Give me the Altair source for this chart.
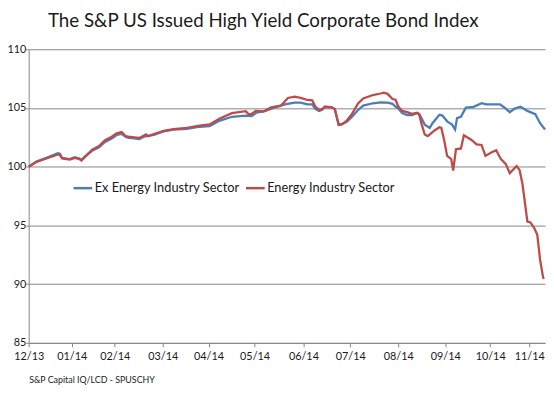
import altair as alt
import pandas as pd

# trading-day index (t) and index level values
ex_t = [0, 3.6, 8.2, 12.3, 13.6, 14.5, 15.5, 19.1, 21.4, 23.6, 24.5, 26.4, 29.5, 32.7, 35.5,
        38.6, 40.9, 43.2, 45, 46.4, 49.1, 51.4, 53.6, 58.2, 62.7, 67.3, 73.6, 79.5, 84.1, 88.6,
        94.5, 100.9, 103.6, 105.9, 110, 114.5, 119.1, 123.6, 126.4, 129.5, 131.8, 133.2, 135,
        136.4, 137.7, 140.9, 142.3, 144.1, 145.5, 147.7, 150, 153.2, 155.5, 160, 163.6, 166.8,
        169.1, 170.5, 171.8, 173.6, 175.9, 178.2, 180.5, 181.8, 184.1, 186.4, 187.7, 190.9,
        192.3, 194.5, 196.8, 198.2, 199.1, 200.9, 203.2, 206.8, 210.5, 212.7, 219.1, 221.4,
        223.6, 225.9, 228.6, 231.8, 235.5, 237.7, 240]
ex_v = [100.0, 100.45, 100.75, 101.05, 101.15, 101.1, 100.75, 100.65, 100.8, 100.7, 100.58,
        100.9, 101.35, 101.65, 102.1, 102.4, 102.7, 102.8, 102.55, 102.45, 102.4, 102.35,
        102.55, 102.7, 103.0, 103.15, 103.22, 103.4, 103.45, 103.9, 104.25, 104.35, 104.3,
        104.6, 104.75, 105.05, 105.3, 105.45, 105.45, 105.3, 105.3, 104.92, 104.75, 104.85,
        105.1, 105.05, 104.9, 103.58, 103.62, 103.8, 104.2, 104.84, 105.2, 105.4, 105.48,
        105.45, 105.35, 105.12, 104.95, 104.56, 104.4, 104.4, 104.55, 104.42, 103.58, 103.3,
        103.7, 104.42, 104.35, 103.86, 103.58, 103.16, 104.14, 104.25, 105.03, 105.1, 105.4,
        105.3, 105.3, 105.0, 104.64, 104.95, 105.1, 104.75, 104.47, 103.7, 103.16]

en_t = [0, 3.6, 8.2, 12.3, 13.6, 14.5, 15.5, 19.1, 21.4, 23.6, 24.5, 26.4, 29.5, 32.7, 35.5,
        38.6, 40.9, 43.2, 45, 46.4, 49.1, 51.4, 53.6, 54.5, 55.5, 58.2, 62.7, 67.3, 73.6, 79.5,
        84.1, 88.6, 94.5, 100.9, 102.3, 103.6, 105.5, 109.1, 112.7, 117.3, 120.5, 123.6, 126.4,
        129.5, 131.8, 133.2, 135, 136.4, 137.7, 140.9, 142.3, 144.1, 145.5, 147.7, 150, 153.2,
        155.5, 160, 163.6, 165, 166.8, 169.1, 170.5, 171.8, 173.6, 175.9, 178.2, 180.5, 181.4,
        182.7, 184.1, 185.5, 187.3, 188.6, 190.9, 191.8, 193.2, 194.5, 196.4, 197.3, 198.6,
        200.9, 202.3, 205.5, 208.2, 210.5, 212.3, 215, 217.3, 219.5, 221.8, 223.6, 225.9,
        226.8, 228.2, 229.5, 230.9, 231.8, 233.2, 235, 236.4, 237.7, 239.1, 239.5]
en_v = [100.0, 100.4, 100.7, 100.95, 101.05, 101.0, 100.7, 100.6, 100.75, 100.65, 100.52,
        100.88, 101.45, 101.75, 102.25, 102.55, 102.85, 102.95, 102.6, 102.55, 102.5, 102.45,
        102.65, 102.75, 102.6, 102.78, 103.05, 103.2, 103.3, 103.5, 103.6, 104.08, 104.56,
        104.72, 104.45, 104.5, 104.75, 104.7, 105.05, 105.2, 105.85, 105.96, 105.85, 105.68,
        105.65, 105.12, 104.84, 104.9, 105.1, 105.05, 104.9, 103.55, 103.6, 103.9, 104.42,
        105.4, 105.81, 106.1, 106.23, 106.3, 106.2, 105.76, 105.7, 105.12, 104.75, 104.64,
        104.5, 104.6, 104.5, 103.58, 102.74, 102.6, 102.88, 103.08, 103.36, 103.3, 102.18,
        100.92, 100.64, 99.66, 101.48, 101.55, 102.68, 102.32, 101.9, 101.85, 100.92, 101.2,
        101.4, 100.64, 100.22, 99.45, 99.89, 100.05, 99.7, 98.55, 96.6, 95.33, 95.25, 94.78,
        94.2, 92.1, 90.57, 90.45]

series_names = ["Ex Energy Industry Sector", "Energy Industry Sector"]
series_colors = ["#4A7EBB", "#BE4B48"]

x_tick_pos = [0, 20, 40, 62.3, 83.6, 105, 127.7, 149.5, 171.8, 193.6, 214.5, 232.7]
x_tick_labels = ["12/13", "01/14", "02/14", "03/14", "04/14", "05/14", "06/14",
                 "07/14", "08/14", "09/14", "10/14", "11/14"]
y_ticks = [85, 90, 95, 100, 105, 110]

df = pd.concat([
    pd.DataFrame({"t": ex_t, "v": ex_v, "series": series_names[0]}),
    pd.DataFrame({"t": en_t, "v": en_v, "series": series_names[1]}),
], ignore_index=True)

label_expr = ("[" + ",".join(f"'{l}'" for l in x_tick_labels) + "][indexof(["
              + ",".join(str(p) for p in x_tick_pos) + "], datum.value)]")

FONT = "Lato"
TXT = "#1a1a1a"
GRID = "#868686"

x_enc = alt.X("t:Q", scale=alt.Scale(domain=[0, 240], nice=False, zero=False),
              axis=alt.Axis(values=x_tick_pos, labelExpr=label_expr, grid=False,
                            tickSize=4, tickColor=GRID, domainColor=GRID,
                            labelFont=FONT, labelFontSize=11, labelColor=TXT,
                            labelPadding=4, labelOverlap=False, labelFlush=False,
                            title="S&P Capital IQ/LCD - SPUSCHY", titleFont=FONT,
                            titleFontSize=9, titleFontWeight="normal", titleColor=TXT,
                            titleAnchor="start", titleAlign="left", titleX=0, titleY=40,
                            titleBaseline="alphabetic"))
y_enc = alt.Y("v:Q", scale=alt.Scale(domain=[85, 110], nice=False, zero=False),
              axis=alt.Axis(values=y_ticks, grid=True, gridColor=GRID, gridWidth=1,
                            tickSize=3, tickColor=GRID, domainColor=GRID,
                            labelFont=FONT, labelFontSize=11, labelColor=TXT,
                            labelPadding=0, title=None, format="d"))
c_enc = alt.Color("series:N",
                  scale=alt.Scale(domain=series_names, range=series_colors),
                  legend=alt.Legend(orient="none", legendX=44, legendY=130,
                                    direction="horizontal", title=None,
                                    symbolType="stroke", symbolStrokeWidth=2.5,
                                    symbolSize=361, labelFont=FONT, labelFontSize=13,
                                    labelColor=TXT, columnPadding=0, labelOffset=1))

base = alt.Chart(df).mark_line(strokeWidth=2.3).encode(x=x_enc, y=y_enc, color=c_enc)
blue = base.transform_filter(alt.datum.series == series_names[0])
red = base.transform_filter(alt.datum.series == series_names[1])

chart = alt.layer(blue, red).properties(
    width=524, height=298,
    padding={"left": 21, "top": 39, "right": 1, "bottom": 45},
    autosize=alt.AutoSizeParams(type="none"),
    title=alt.TitleParams("The S&P US Issued High Yield Corporate Bond Index",
                          font=FONT, fontSize=19, fontWeight="normal", color=TXT,
                          anchor="middle", frame="group", offset=13, dx=-24),
).configure_view(stroke=None)

chart.save("out.html", embed_options={"renderer": "svg", "actions": False})
